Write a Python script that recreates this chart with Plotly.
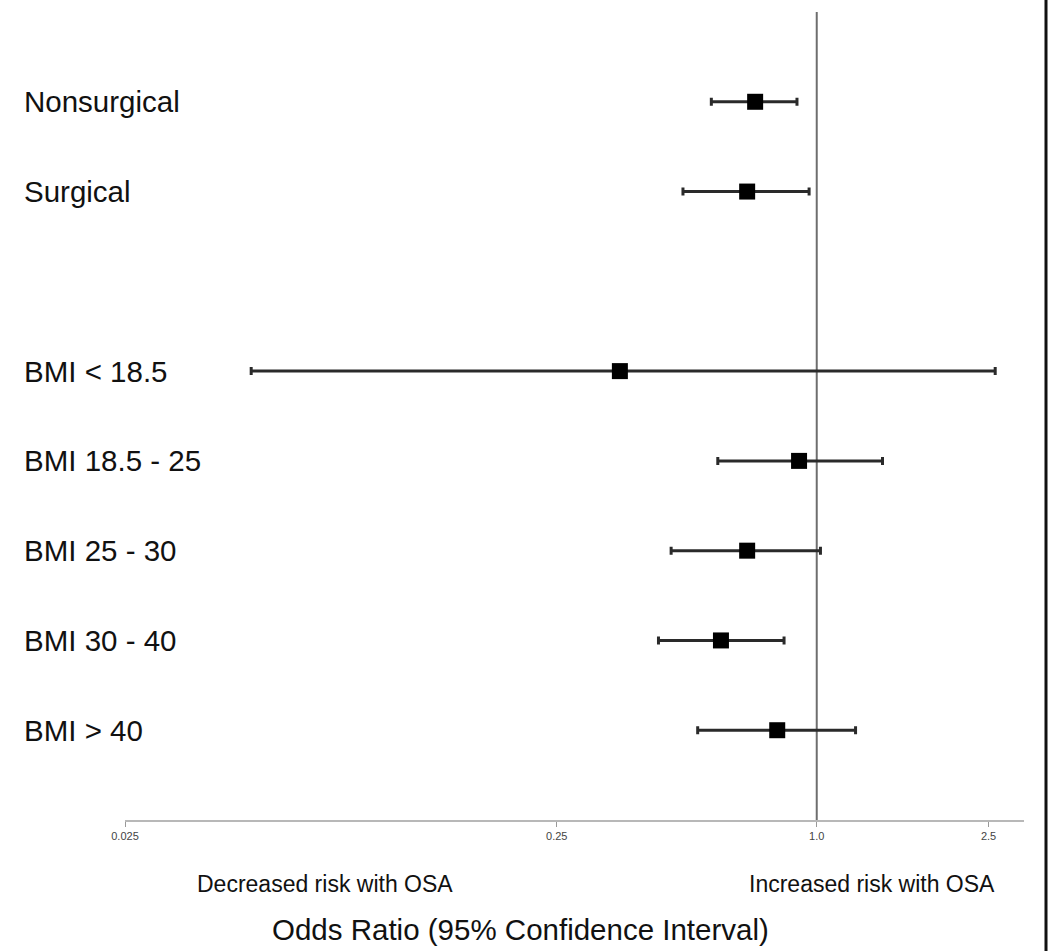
import plotly.graph_objects as go
import numpy as np

# ---- data ----
categories = ["Nonsurgical", "Surgical", "", "BMI < 18.5", "BMI 18.5 - 25",
              "BMI 25 - 30", "BMI 30 - 40", "BMI > 40"]
odds_ratio = [0.72, 0.69, None, 0.35, 0.91, 0.69, 0.60, 0.81]
ci_lower = [0.57, 0.49, None, 0.049, 0.59, 0.46, 0.43, 0.53]
ci_upper = [0.90, 0.96, None, 2.59, 1.42, 1.02, 0.84, 1.23]
tick_values = [0.025, 0.25, 1.0, 2.5]
tick_labels = ["0.025", "0.25", "1.0", "2.5"]

rows = list(range(len(categories)))
idx = [i for i in rows if odds_ratio[i] is not None]
xs = [odds_ratio[i] for i in idx]
ys = [rows[i] for i in idx]
plus = [ci_upper[i] - odds_ratio[i] for i in idx]
minus = [odds_ratio[i] - ci_lower[i] for i in idx]

FONT = "Liberation Sans, Arial, Helvetica, sans-serif"

W, H = 1050, 951
L, R, T, B = 125, 26, 12, 131
pw = W - L - R
ph = H - T - B

def px_to_paper_x(px):
    return (px - L) / pw

def px_to_paper_y(py):
    return (H - B - py) / ph

fig = go.Figure()
fig.add_trace(go.Scatter(
    x=xs, y=ys, mode="markers",
    marker=dict(symbol="square", size=16, color="black"),
    error_x=dict(type="data", symmetric=False, array=plus, arrayminus=minus,
                 color="#2a2a2a", thickness=3, width=4),
    showlegend=False, hoverinfo="skip",
))

# reference line at OR = 1
fig.add_shape(type="line", xref="x", yref="paper", x0=1.0, x1=1.0, y0=0, y1=1,
              line=dict(color="#6e6e6e", width=2), layer="below")

# row labels
for i, c in enumerate(categories):
    if c:
        fig.add_annotation(text=c, xref="paper", yref="y", x=px_to_paper_x(22), y=rows[i],
                           xanchor="left", yanchor="middle", showarrow=False,
                           font=dict(family=FONT, size=29.5, color="#111"))

fig.add_annotation(text="Decreased risk with OSA", xref="paper", yref="paper",
                   x=px_to_paper_x(325), y=px_to_paper_y(884), xanchor="center", yanchor="middle",
                   showarrow=False, font=dict(family=FONT, size=23, color="#111"))
fig.add_annotation(text="Increased risk with OSA", xref="paper", yref="paper",
                   x=px_to_paper_x(872), y=px_to_paper_y(884), xanchor="center", yanchor="middle",
                   showarrow=False, font=dict(family=FONT, size=23, color="#111"))
fig.add_annotation(text="Odds Ratio (95% Confidence Interval)", xref="paper", yref="paper",
                   x=px_to_paper_x(520), y=px_to_paper_y(930), xanchor="center", yanchor="middle",
                   showarrow=False, font=dict(family=FONT, size=29.5, color="#111"))

# right border
fig.add_shape(type="line", xref="paper", yref="paper",
              x0=px_to_paper_x(1046), x1=px_to_paper_x(1046),
              y0=px_to_paper_y(0), y1=px_to_paper_y(951),
              line=dict(color="#111", width=3))

fig.update_layout(
    width=W, height=H,
    margin=dict(l=L, r=R, t=T, b=B),
    paper_bgcolor="white", plot_bgcolor="white",
    xaxis=dict(type="log", range=[np.log10(0.025), np.log10(3.02)],
               tickvals=tick_values, ticktext=tick_labels,
               showgrid=False, zeroline=False,
               showline=True, linecolor="#b8b8b8", linewidth=2,
               ticks="outside", ticklen=5, tickcolor="#999", tickwidth=1,
               tickfont=dict(family=FONT, size=11, color="#444")),
    yaxis=dict(range=[len(categories), -1], showgrid=False, zeroline=False,
               showline=False, showticklabels=False, ticks=""),
)

fig.write_html("out.html", config={"displayModeBar": False},
               post_script="document.body.style.margin='0';document.body.style.overflow='hidden';")
